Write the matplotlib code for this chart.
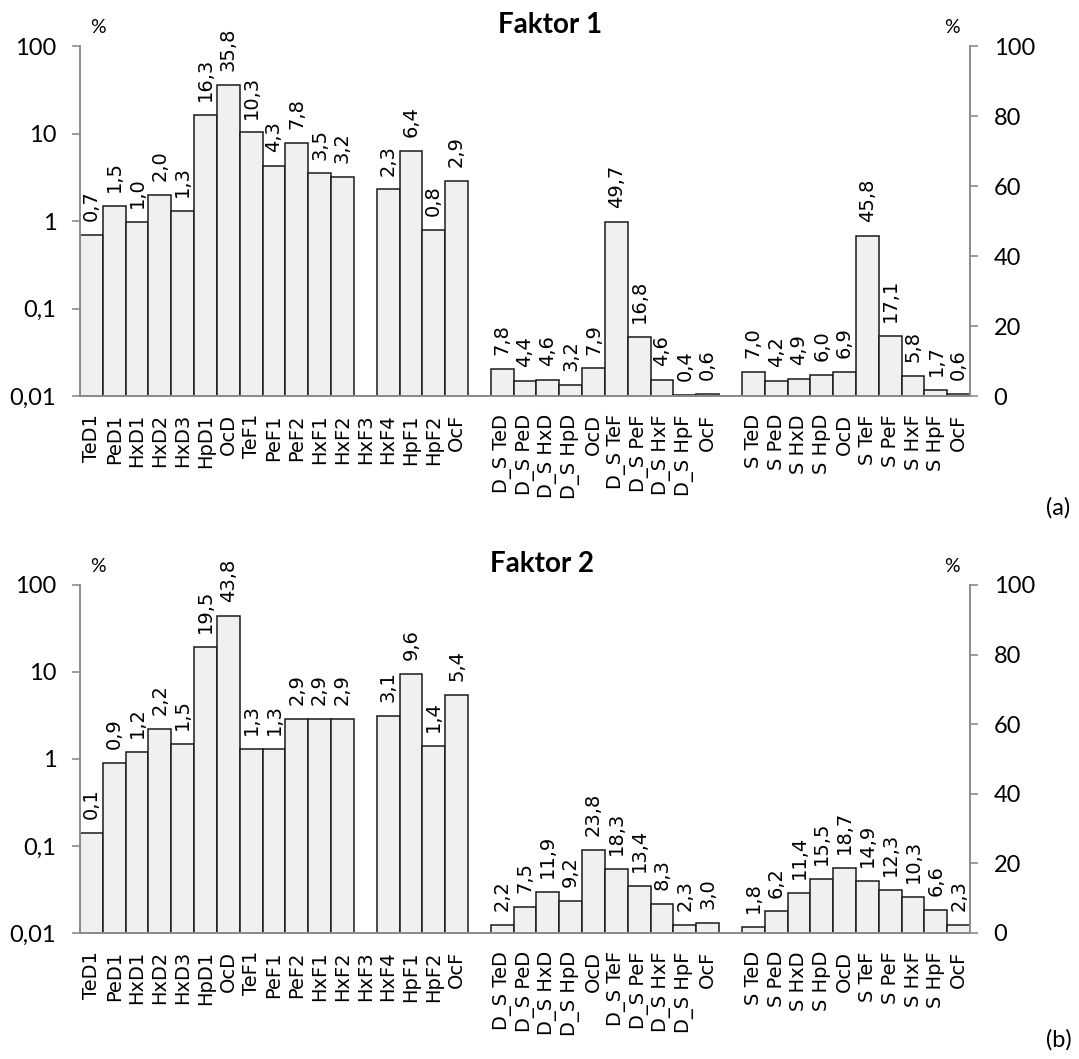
import numpy as np
import matplotlib
matplotlib.use('Agg')
import matplotlib.pyplot as plt
from matplotlib.ticker import FixedLocator, FixedFormatter, NullLocator

plt.rcParams['font.family'] = ['DejaVu Sans']

# categories
cats_main = ['TeD1', 'PeD1', 'HxD1', 'HxD2', 'HxD3', 'HpD1', 'OcD', 'TeF1', 'PeF1',
             'PeF2', 'HxF1', 'HxF2', 'HxF3', 'HxF4', 'HpF1', 'HpF2', 'OcF']
cats_ds = ['D_S TeD', 'D_S PeD', 'D_S HxD', 'D_S HpD', 'OcD',
           'D_S TeF', 'D_S PeF', 'D_S HxF', 'D_S HpF', 'OcF']
cats_s = ['S TeD', 'S PeD', 'S HxD', 'S HpD', 'OcD',
          'S TeF', 'S PeF', 'S HxF', 'S HpF', 'OcF']

nan = np.nan
# Faktor 1 (%), left axis log, right axis linear
f1_main = [0.7, 1.5, 0.97, 2.0, 1.3, 16.3, 35.8, 10.3, 4.3, 7.8, 3.5, 3.2, nan, 2.3, 6.4, 0.8, 2.9]
f1_ds = [7.8, 4.4, 4.6, 3.2, 7.9, 49.7, 16.8, 4.6, 0.4, 0.6]
f1_s = [7.0, 4.2, 4.9, 6.0, 6.9, 45.8, 17.1, 5.8, 1.7, 0.6]
# Faktor 2 (%)
f2_main = [0.14, 0.9, 1.2, 2.2, 1.5, 19.5, 43.8, 1.3, 1.3, 2.9, 2.9, 2.9, nan, 3.1, 9.6, 1.4, 5.4]
f2_ds = [2.2, 7.5, 11.9, 9.2, 23.8, 18.3, 13.4, 8.3, 2.3, 3.0]
f2_s = [1.8, 6.2, 11.4, 15.5, 18.7, 14.9, 12.3, 10.3, 6.6, 2.3]

log_ticks = [0.01, 0.1, 1, 10, 100]
log_labels = ['0,01', '0,1', '1', '10', '100']
lin_ticks = [0, 20, 40, 60, 80, 100]

face = '#eff0ef'
edge = '#1a1a1a'
grey = '#8c8c8c'


def fmt(v):
    return f'{v:.1f}'.replace('.', ',')


def panel(fig, rect, title, title_x, tag, tag_y, main, ds, s):
    ax = fig.add_axes(rect)
    ax.set_yscale('log')
    ax.set_ylim(0.01, 100)
    ax2 = ax.twinx()
    ax2.set_ylim(0, 100)

    x_main = np.arange(len(main))
    x_ds = len(main) + 1 + np.arange(len(ds))
    x_s = x_ds[-1] + 2 + np.arange(len(s))

    m = np.array(main)
    ok = ~np.isnan(m)
    ax.bar(x_main[ok], m[ok] - 0.01, bottom=0.01, width=1, color=face,
           edgecolor=edge, linewidth=1.1)
    for xi, v in zip(x_main[ok], m[ok]):
        ax.annotate(fmt(v), (xi, v), xytext=(0, 10), textcoords='offset points',
                    rotation=90, ha='center', va='bottom', fontsize=14)

    xr = np.r_[x_ds, x_s]
    vr = np.array(ds + s)
    ax2.bar(xr, vr, width=1, color=face, edgecolor=edge, linewidth=1.1)
    for xi, v in zip(xr, vr):
        ax2.annotate(fmt(v), (xi, v), xytext=(0, 10), textcoords='offset points',
                     rotation=90, ha='center', va='bottom', fontsize=14)

    ax.set_xlim(-0.5, x_s[-1] + 0.5)
    ax.set_xticks(np.r_[x_main, x_ds, x_s])
    ax.set_xticklabels(cats_main + cats_ds + cats_s, rotation=90, fontsize=14,
                       va='top', ha='center')
    ax.tick_params(axis='x', length=0, pad=13)

    ax.yaxis.set_major_locator(FixedLocator(log_ticks))
    ax.yaxis.set_major_formatter(FixedFormatter(log_labels))
    ax.yaxis.set_minor_locator(NullLocator())
    ax.tick_params(axis='y', direction='out', length=6, color=grey, width=1.2, pad=11)
    for lab in ax.get_yticklabels():
        lab.set_fontfamily('Lato')
        lab.set_fontsize(17)

    ax2.set_yticks(lin_ticks)
    ax2.tick_params(axis='y', direction='out', length=6, color=grey, width=1.2, pad=11)
    for lab in ax2.get_yticklabels():
        lab.set_fontfamily('Lato')
        lab.set_fontsize(17)

    for a in (ax, ax2):
        a.spines['top'].set_visible(False)
        for sp in ('left', 'right', 'bottom'):
            a.spines[sp].set_color(grey)
            a.spines[sp].set_linewidth(1.4)
    ax.spines['right'].set_visible(False)
    ax2.spines['left'].set_visible(False)

    ax.text(0.02, 1.03, '%', transform=ax.transAxes, fontsize=14,
            ha='center', va='bottom', family='Lato')
    ax.text(0.98, 1.03, '%', transform=ax.transAxes, fontsize=14,
            ha='center', va='bottom', family='Lato')
    ax.text(title_x, 1.037, title, transform=ax.transAxes, fontsize=20,
            fontweight='bold', ha='center', va='baseline', family='Lato')
    fig.text(0.981, tag_y, tag, fontsize=17, ha='center', va='center', family='Lato')


fig = plt.figure(figsize=(10.79, 10.59), dpi=100)
panel(fig, [0.0741, 0.626, 0.825, 0.3305], 'Faktor 1', 0.528, '(a)', 1 - 508 / 1059,
      f1_main, f1_ds, f1_s)
panel(fig, [0.0741, 0.119, 0.825, 0.3286], 'Faktor 2', 0.519, '(b)', 1 - 1040 / 1059,
      f2_main, f2_ds, f2_s)

fig.savefig('out.png', dpi=100)
